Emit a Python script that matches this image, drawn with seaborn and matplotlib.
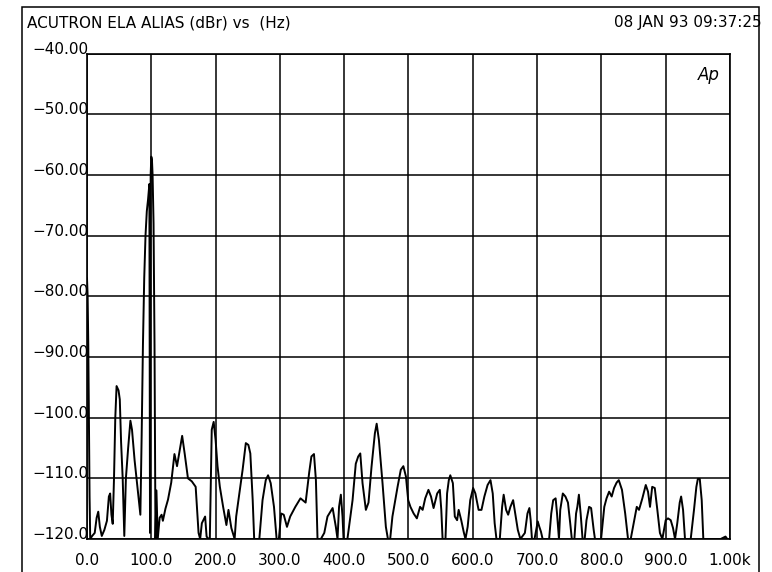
import matplotlib
matplotlib.use("Agg")
import matplotlib.pyplot as plt
import seaborn as sns
import pandas as pd

# spectrum (Hz, dBr)
freq_hz = [0, 1, 2, 3, 4, 5, 8, 12, 15, 17.5, 20, 23, 27, 31, 34, 36, 38, 40, 42, 44,
           46, 49, 51, 53, 55.5, 58, 60.5, 64, 67.5, 70, 74, 78, 81, 83, 85, 87, 89, 91, 93, 95,
           97, 98, 99, 100, 101, 102, 103.5, 105, 106.5, 108, 110, 113, 116, 118, 122, 126, 131,
           136, 140, 144, 148, 152, 157, 163, 169, 173.5, 176, 178.6, 183.7, 186, 189, 191, 194,
           197, 200, 203, 206.6, 211.7, 216.8, 220, 224.5, 229.6, 232, 237, 242, 247, 251, 254,
           257.7, 260, 268, 273, 278, 281.6, 285.7, 290.8, 294.9, 298.4, 302, 306, 311, 316, 324,
           332, 340, 345.6, 349, 353, 356, 358.5, 363.7, 369, 374, 382, 387, 389.6, 392, 394.8,
           397.4, 399, 405, 413, 418, 421.8, 425, 428.5, 433.7, 437.8, 442.5, 447.7, 450.5, 454,
           459.6, 464.8, 468, 471.5, 475, 483, 488, 492, 496, 499.5, 503, 508, 513, 518, 522, 526,
           531, 535, 539, 544.6, 548.7, 551, 553, 557.5, 560, 562.7, 565, 569, 572, 575.6, 578,
           582, 586, 588.6, 592, 596, 600.5, 604, 609, 613.5, 618, 623, 627.5, 631, 634, 636.8,
           642, 645.6, 648, 651.8, 655, 658.5, 662.7, 666, 670, 674, 681, 685, 688, 690, 692, 696,
           698.5, 701, 703.5, 706, 708.6, 718.7, 722, 725, 728.8, 731, 734, 736, 740, 744, 748,
           751.5, 754, 758, 760.6, 762.6, 765, 767.7, 770.7, 774, 776.8, 780.8, 784, 788, 790,
           799.5, 804.5, 808, 812, 816, 819.7, 823.7, 827, 832, 837, 841.4, 845.6, 851, 855,
           858.5, 863.7, 869, 872.5, 875.6, 879, 883, 887, 891, 894.8, 900, 903.6, 907.8, 911.4,
           914.5, 918, 921.8, 924, 927, 930, 938.9, 944, 947.7, 950, 953, 956, 958.5, 985.5, 993,
           995.8]
level_dbr = [-77, -80, -88, -101, -113, -120, -119.5, -119, -116.5, -115.5, -118, -119.5, -118.5,
             -117, -113, -112.5, -116, -117.5, -110, -100, -94.8, -95.5, -97, -104, -110, -119.5,
             -110, -105, -100.5, -102, -107, -111, -114, -116, -103, -88, -77, -70, -66, -64,
             -61.5, -119, -60, -57, -57.5, -60, -68, -88, -120, -112, -120, -116.5, -116, -117,
             -115, -113.5, -110.7, -106, -108, -105.5, -103, -106, -110, -110.5, -111.4, -119,
             -120, -117.4, -116.3, -119.6, -120, -120, -102, -100.7, -103.7, -108, -111.4, -114.7,
             -117.7, -115.2, -118.2, -120, -116.3, -112.5, -108.6, -104.2, -104.5, -105.9, -113.6,
             -120, -120, -113.6, -110.3, -109.5, -110.8, -114.7, -120, -120, -115.8, -116, -118,
             -116.3, -114.7, -113.3, -114, -109, -106.4, -106, -110.3, -120, -120, -119, -116.3,
             -114.9, -118, -120, -114.7, -112.7, -116.3, -120, -120, -113.6, -107.6, -106.4,
             -105.9, -110.8, -115.2, -114, -108.1, -102.6, -101, -103.7, -110.8, -118, -120, -120,
             -116.3, -111.4, -108.6, -108, -109.7, -113.6, -114.7, -115.8, -116.6, -114.7, -115.2,
             -113.3, -111.9, -113, -114.9, -112.5, -111.9, -115.2, -120, -120, -112.5, -110.3,
             -109.5, -110.8, -116.3, -116.9, -115.2, -116.9, -118.9, -120, -118, -113.6, -111.6,
             -112.5, -115.2, -115.2, -113, -111.1, -110.3, -112.5, -117.4, -120, -120, -114.7,
             -112.7, -115.2, -116, -114.7, -113.6, -115.8, -118.5, -120, -119, -115.8, -114.9,
             -116.9, -120, -120, -118.5, -117.1, -118, -118.8, -120, -120, -115.8, -113.6, -113.3,
             -115.8, -120, -115.2, -112.5, -113, -114, -117.4, -120, -120, -115.8, -114.7, -112.7,
             -115.8, -120, -120, -116.9, -114.7, -114.9, -118.5, -120, -120, -114.7, -113.3,
             -112.2, -113, -111.6, -110.7, -110.3, -111.9, -115.8, -120, -120, -116.9, -114.7,
             -115.2, -113.3, -111.1, -112.2, -114.7, -111.4, -111.6, -115.2, -119, -120, -116.9,
             -116.6, -116.9, -118.2, -120, -117.4, -114, -113, -115.2, -120, -120, -115.2, -111.4,
             -110.1, -110.1, -113.6, -120, -120, -119.6, -120]

x_ticks = [0, 100, 200, 300, 400, 500, 600, 700, 800, 900, 1000]
x_labels = ["0.0", "100.0", "200.0", "300.0", "400.0", "500.0", "600.0",
            "700.0", "800.0", "900.0", "1.00k"]
y_ticks = [-40, -50, -60, -70, -80, -90, -100, -110, -120]
y_labels = ["\u221240.00", "\u221250.00", "\u221260.00", "\u221270.00", "\u221280.00",
            "\u221290.00", "\u2212100.0", "\u2212110.0", "\u2212120.0"]

title_text = "ACUTRON ELA ALIAS (dBr) vs  (Hz)"
stamp_text = "08 JAN 93 09:37:25"
logo_text = "Ap"

sns.set_theme(style="white")
plt.rcParams['font.family'] = ['DejaVu Sans']
plt.rcParams['text.color'] = 'black'

fig = plt.figure(figsize=(7.72, 5.72), dpi=100)
ax = fig.add_axes([87 / 772, 1 - 539 / 572, 643 / 772, 485.5 / 572])

df = pd.DataFrame({"Hz": freq_hz, "dBr": level_dbr})
sns.lineplot(data=df, x="Hz", y="dBr", color="black", linewidth=1.4,
             estimator=None, sort=False, ax=ax)

ax.set_xlim(0, 1000)
ax.set_ylim(-120, -40)
ax.set_xticks(x_ticks, x_labels)
ax.set_yticks(y_ticks, y_labels)
ax.set_xlabel("")
ax.set_ylabel("")
ax.grid(True, color="black", linewidth=1.1)
ax.tick_params(length=0, labelsize=11, colors="black")
ax.tick_params(axis="x", pad=10)
ax.tick_params(axis="y", pad=-1)
for lab in ax.get_yticklabels():
    lab.set_verticalalignment("baseline")
for s in ax.spines.values():
    s.set_color("black")
    s.set_linewidth(1.2)

ax.text(0.984, 0.956, logo_text, transform=ax.transAxes, ha="right", va="center",
        fontstyle="italic", fontsize=12, color="black")

# outer frame of the plotter sheet
fig.add_artist(plt.Rectangle((22 / 772, -0.05), (759 - 22) / 772, 1.05 - 7 / 572,
                             fill=False, edgecolor="black", linewidth=1.1,
                             transform=fig.transFigure))
fig.text(27 / 772, 1 - 23 / 572, title_text, ha="left", va="center", fontsize=11, color="black")
fig.text(762 / 772, 1 - 23 / 572, stamp_text, ha="right", va="center", fontsize=11, color="black")

fig.savefig("out.png", dpi=100)
